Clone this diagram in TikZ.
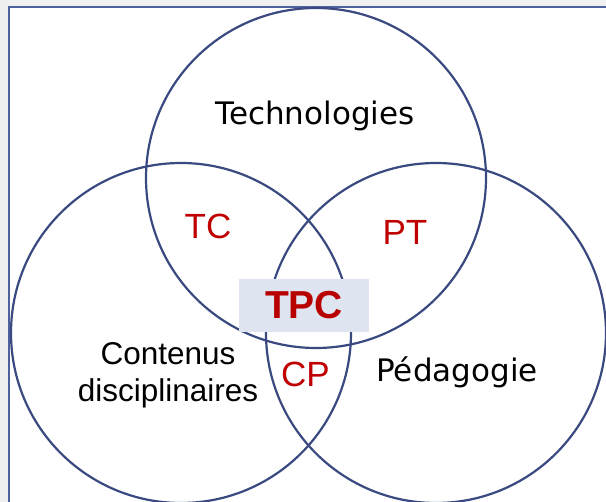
\documentclass[tikz,border=0pt]{standalone}
\usepackage{fontspec}
\setmainfont{Liberation Sans}
\newfontfamily\dejavu{DejaVu Sans}
\definecolor{ringblue}{RGB}{58,74,128}
\definecolor{frameblue}{RGB}{78,96,158}
\definecolor{outergray}{RGB}{240,240,240}
\definecolor{labelred}{RGB}{192,0,0}
\definecolor{tpcred}{RGB}{185,0,0}
\definecolor{boxfill}{RGB}{222,228,240}
\begin{document}
\begin{tikzpicture}[x=1pt,y=-1pt,
  ring/.style={draw=ringblue,line width=2.2pt},
  maintext/.style={anchor=base,inner sep=0pt,text=black,font=\dejavu\fontsize{31}{36}\selectfont},
  sidetext/.style={anchor=base,inner sep=0pt,text=black,font=\fontsize{31.5}{36}\selectfont},
  pairtext/.style={anchor=base,inner sep=0pt,text=labelred,font=\fontsize{35}{40}\selectfont},
  tpcbox/.style={fill=boxfill,draw=none,minimum width=130pt,minimum height=53pt,inner sep=0pt,
    font=\bfseries\fontsize{39}{42}\selectfont,text=tpcred}]
\useasboundingbox (0,0) rectangle (606,502);
\fill[outergray] (0,0) rectangle (606,502);
\fill[white] (9,7) rectangle (606,502);
\draw[frameblue,line width=2.4pt] (9,504) -- (9,7) -- (608,7);
\begin{scope}
\clip (0,0) rectangle (606,502);
\coordinate (ct) at (316,178);
\coordinate (cl) at (181,333);
\coordinate (cr) at (436,333);
\draw[ring] (ct) circle[radius=170];
\draw[ring] (cl) circle[radius=170];
\draw[ring] (cr) circle[radius=170];
\end{scope}
\node[maintext] (tech) at (315,125) {Technologies};
\node[maintext] (peda) at (457,382) {Pédagogie};
\node[sidetext] (cont1) at (168,365) {Contenus};
\node[sidetext] (cont2) at (168,402) {disciplinaires};
\node[pairtext] (tc) at (208,239) {TC};
\node[pairtext] (pt) at (405,245) {PT};
\node[pairtext] (cp) at (305.5,387) {CP};
\node[tpcbox] (tpc) at (304,305.5) {TPC};
\end{tikzpicture}
\end{document}
